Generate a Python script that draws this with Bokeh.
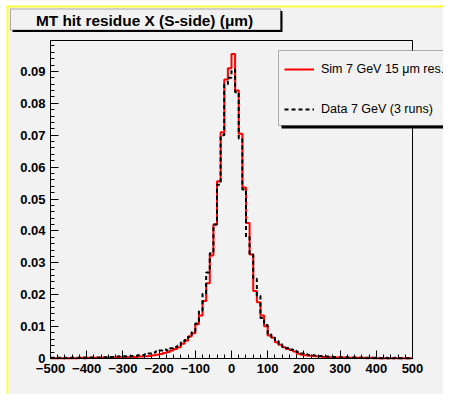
import numpy as np
from bokeh.plotting import figure
from bokeh.models import (Range1d, Label, BoxAnnotation, Legend, LegendItem,
                          FixedTicker, PrintfTickFormatter)
from bokeh.embed import file_html
from bokeh.resources import INLINE

# ---- data -------------------------------------------------------------
bin_lo = -500
bin_hi = 500
bin_width = 10

sim_values = [
    0.0001, 0.0001, 0.0001, 0.0001, 0.0001, 0.0001, 0.0001, 0.0001, 0.0002, 0.0001,
    0.0002, 0.0002, 0.0002, 0.0002, 0.0002, 0.0003, 0.0003, 0.0003, 0.0003, 0.0004,
    0.0004, 0.0004, 0.0005, 0.0005, 0.0006, 0.0006, 0.0007, 0.0008, 0.0010, 0.0012,
    0.0014, 0.0017, 0.0020, 0.0025, 0.0030, 0.0035, 0.0046, 0.0056, 0.0069, 0.0079,
    0.0107, 0.0135, 0.0180, 0.0236, 0.0323, 0.0420, 0.0556, 0.0709, 0.0875, 0.0910,
    0.0955, 0.0840, 0.0705, 0.0536, 0.0425, 0.0326, 0.0212, 0.0176, 0.0135, 0.0101,
    0.0072, 0.0065, 0.0051, 0.0043, 0.0035, 0.0030, 0.0027, 0.0022, 0.0015, 0.0012,
    0.0010, 0.0009, 0.0008, 0.0007, 0.0006, 0.0005, 0.0005, 0.0004, 0.0004, 0.0003,
    0.0003, 0.0003, 0.0002, 0.0002, 0.0002, 0.0002, 0.0002, 0.0001, 0.0002, 0.0001,
    0.0001, 0.0001, 0.0001, 0.0001, 0.0001, 0.0001, 0.0001, 0.0001, 0.0001, 0.0001,
]

data_values = [
    0.0002, 0.0001, 0.0002, 0.0001, 0.0002, 0.0002, 0.0003, 0.0002, 0.0002, 0.0003,
    0.0002, 0.0003, 0.0003, 0.0003, 0.0004, 0.0004, 0.0005, 0.0005, 0.0006, 0.0007,
    0.0007, 0.0006, 0.0008, 0.0009, 0.0010, 0.0011, 0.0013, 0.0016, 0.0019, 0.0022,
    0.0025, 0.0028, 0.0026, 0.0032, 0.0036, 0.0040, 0.0050, 0.0058, 0.0068, 0.0085,
    0.0110, 0.0150, 0.0203, 0.0270, 0.0330, 0.0420, 0.0545, 0.0700, 0.0860, 0.0880,
    0.0905, 0.0835, 0.0690, 0.0530, 0.0380, 0.0326, 0.0250, 0.0197, 0.0127, 0.0105,
    0.0075, 0.0065, 0.0055, 0.0045, 0.0038, 0.0033, 0.0028, 0.0024, 0.0020, 0.0016,
    0.0013, 0.0011, 0.0010, 0.0009, 0.0008, 0.0007, 0.0006, 0.0006, 0.0005, 0.0005,
    0.0004, 0.0004, 0.0003, 0.0003, 0.0003, 0.0002, 0.0003, 0.0002, 0.0002, 0.0002,
    0.0002, 0.0001, 0.0002, 0.0001, 0.0001, 0.0002, 0.0001, 0.0001, 0.0001, 0.0001,
]

x_ticks = [-500, -400, -300, -200, -100, 0, 100, 200, 300, 400, 500]
y_ticks = [0, 0.01, 0.02, 0.03, 0.04, 0.05, 0.06, 0.07, 0.08, 0.09]
y_max = 0.0997

title_text = "MT hit residue X (S-side) (\u03bcm)"
sim_label = "Sim 7 GeV 15 \u03bcm res."
data_label = "Data 7 GeV (3 runs)"

# ---- layout geometry (canvas pixels) -----------------------------------
BG = "#f2f2f2"
W, H = 443, 394
FL, FR, FT, FB = 50, 412, 40, 358
sx = (FR - FL) / (bin_hi - bin_lo)
sy = (FB - FT) / y_max
x_range = Range1d(bin_lo - FL / sx, bin_hi + (W - FR) / sx)
y_range = Range1d(0 - (H - FB) / sy, y_max + FT / sy)

p = figure(width=W, height=H, output_backend="svg", toolbar_location=None,
           x_range=x_range, y_range=y_range, title=None)
p.min_border = 0
p.min_border_left = 0
p.min_border_right = 0
p.min_border_top = 0
p.min_border_bottom = 0
p.background_fill_color = BG
p.border_fill_color = BG
p.outline_line_color = None
p.xgrid.visible = False
p.ygrid.visible = False

edges = list(np.arange(bin_lo, bin_hi + bin_width, bin_width))
sim_y = list(sim_values) + [sim_values[-1]]
dat_y = list(data_values) + [data_values[-1]]

r_sim = p.step(edges, sim_y, mode="after", line_color="#ff0000", line_width=2)
r_dat = p.step(edges, dat_y, mode="after", line_color="black", line_width=2,
               line_dash="4 3")

# plot box outline
p.add_layout(BoxAnnotation(left=bin_lo, right=bin_hi, bottom=0, top=y_max,
                           fill_alpha=0, line_color="black", line_width=1,
                           line_alpha=1))

# axes at fixed location on the plot box
p.xaxis.fixed_location = 0
p.yaxis.fixed_location = bin_lo
p.xaxis.bounds = (bin_lo, bin_hi)
p.yaxis.bounds = (0, y_max)
for ax in (p.xaxis[0], p.yaxis[0]):
    ax.axis_line_color = "black"
    ax.major_tick_line_color = "black"
    ax.minor_tick_line_color = "black"
    ax.major_tick_in = 8
    ax.major_tick_out = 0
    ax.minor_tick_in = 4
    ax.minor_tick_out = 0
    ax.major_label_text_font = "Liberation Sans"
    ax.major_label_text_font_style = "bold"
    ax.major_label_text_font_size = "13px"
    ax.major_label_text_color = "black"
    ax.major_label_standoff = 5

p.xaxis.ticker = FixedTicker(ticks=x_ticks,
                             minor_ticks=list(range(-500, 501, 20)))
p.yaxis.ticker = FixedTicker(ticks=y_ticks,
                             minor_ticks=[round(0.002 * i, 3) for i in range(50)])
p.yaxis.formatter = PrintfTickFormatter(format="%g")

def cbox(l, r, t, b, **kw):
    return BoxAnnotation(left=l, right=r, top=t, bottom=b,
                         left_units="canvas", right_units="canvas",
                         top_units="canvas", bottom_units="canvas",
                         level="overlay", **kw)

# white margin and yellow highlight on top / left edge
p.add_layout(cbox(0, 6, 0, H, fill_color="white", fill_alpha=1, line_color=None))
p.add_layout(cbox(0, W, 0, 5, fill_color="white", fill_alpha=1, line_color=None))
p.add_layout(cbox(6, 8, 5, H, fill_color="#ffff40", fill_alpha=1, line_color=None))
p.add_layout(cbox(6, W, 5, 7, fill_color="#ffff40", fill_alpha=1, line_color=None))

# title box (shadow + box + text)
p.add_layout(cbox(12, 282, 10.5, 31.5, fill_color="black", fill_alpha=1, line_color=None))
p.add_layout(cbox(10, 280, 8.5, 29.5, fill_color=BG, fill_alpha=1,
                  line_color="black", line_width=1))
p.add_layout(Label(x=144, y=19.5, x_units="canvas", y_units="canvas",
                   text=title_text, text_font="Liberation Sans",
                   text_font_style="bold", text_font_size="15.4px",
                   text_align="center", text_baseline="middle",
                   text_color="black", level="overlay"))

# legend box (shadow + box)
p.add_layout(cbox(281, 448, 53, 128, fill_color="black", fill_alpha=1, line_color=None))
p.add_layout(cbox(278, 445, 50, 125, fill_color=BG, fill_alpha=1,
                  line_color="black", line_width=1))

legend = Legend(items=[LegendItem(label=sim_label, renderers=[r_sim]),
                       LegendItem(label=data_label, renderers=[r_dat])],
                location=(284, H - 119), orientation="vertical",
                padding=0, margin=0, spacing=20,
                glyph_width=30, glyph_height=20, label_height=20,
                label_standoff=7,
                label_text_font="Liberation Sans", label_text_font_size="12.5px",
                label_text_color="black",
                border_line_color=None, background_fill_alpha=0)
legend.level = "overlay"
p.add_layout(legend, "center")

open("out.html", "w").write(file_html(p, INLINE))
